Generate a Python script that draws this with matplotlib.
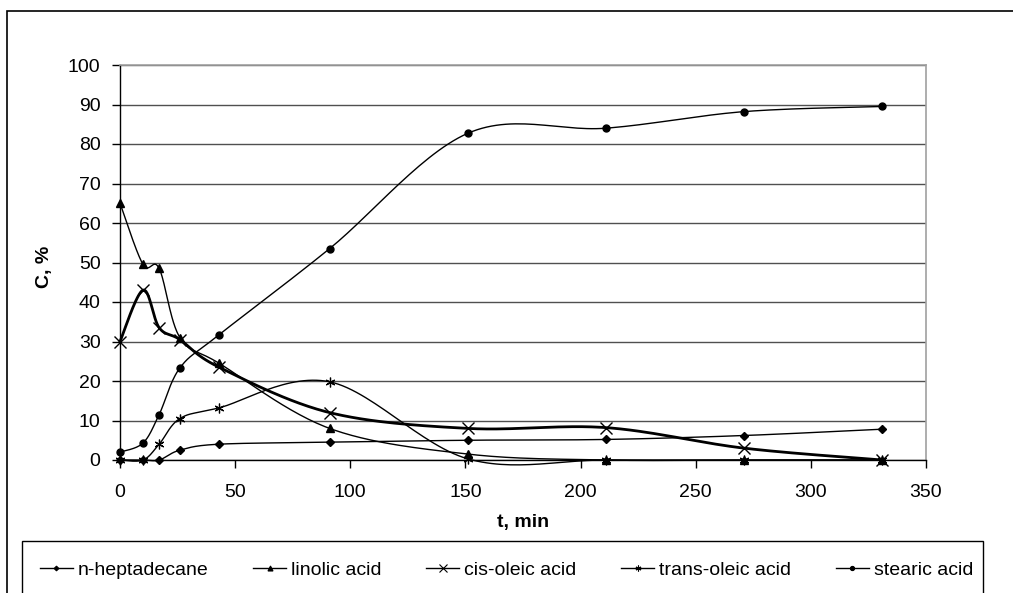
import numpy as np
import matplotlib
matplotlib.use('Agg')
import matplotlib.pyplot as plt
from matplotlib.patches import Rectangle

plt.rcParams['font.family'] = ['Liberation Sans', 'DejaVu Sans']

# sampling times, min
t = [0, 10, 17, 26, 43, 91, 151, 211, 271, 331]

heptadecane = [0, 0, 0, 2.5, 4.0, 4.5, 5.0, 5.2, 6.2, 7.8]
linolic = [65, 49.5, 48.5, 31, 24.5, 8.0, 1.5, 0, 0, 0]
cis_oleic = [30, 43, 33.5, 30.5, 23.5, 12, 8.0, 8.2, 3.0, 0]
trans_oleic = [0, 0, 4.0, 10.5, 13.2, 19.8, 0.3, 0, 0, 0]
stearic = [2.0, 4.3, 11.5, 23.3, 31.7, 53.5, 82.7, 84.0, 88.2, 89.5]

series_names = ['n-heptadecane', 'linolic acid', 'cis-oleic acid',
                'trans-oleic acid', 'stearic acid']


def smooth(x, y, n=30):
    # excel-like smoothed line (catmull-rom through the points)
    p = np.column_stack([x, y]).astype(float)
    p = np.vstack([p[0], p, p[-1]])
    out = []
    for i in range(1, len(p) - 2):
        p0, p1, p2, p3 = p[i - 1], p[i], p[i + 1], p[i + 2]
        b1 = p1 + (p2 - p0) / 6.0
        b2 = p2 - (p3 - p1) / 6.0
        s = np.linspace(0, 1, n)[:, None]
        seg = ((1 - s) ** 3) * p1 + 3 * ((1 - s) ** 2) * s * b1 \
            + 3 * (1 - s) * s ** 2 * b2 + s ** 3 * p2
        out.append(seg)
    c = np.vstack(out)
    return c[:, 0], c[:, 1]


fig = plt.figure(figsize=(10.13, 5.93), dpi=100)
ax = fig.add_axes([120 / 1013, 1 - 460 / 593, (926 - 120) / 1013, (460 - 65) / 593])

# outer chart frame and legend frame
fig.patches.append(Rectangle((7 / 1013, -0.1), 1.1, 1 - 11 / 593 + 0.1,
                             transform=fig.transFigure, fill=False,
                             edgecolor='black', lw=1.2))
fig.patches.append(Rectangle((22 / 1013, -0.1), (983 - 22) / 1013, 1 - 541 / 593 + 0.1,
                             transform=fig.transFigure, fill=False,
                             edgecolor='black', lw=1.0))

styles = [
    dict(marker='D', ms=4, lw=1.0),
    dict(marker='^', ms=6, lw=1.0),
    dict(marker='x', ms=9, mew=1.0, lw=2.0),
    dict(marker=(6, 2, 0), ms=7, mew=0.9, lw=1.0),
    dict(marker='o', ms=5, lw=1.0),
]
data = [heptadecane, linolic, cis_oleic, trans_oleic, stearic]

handles = []
for name, y, st in zip(series_names, data, styles):
    sx, sy = smooth(t, y)
    ax.plot(sx, sy, color='black', lw=st['lw'], zorder=3, clip_on=False)
    ax.plot(t, y, ls='none', marker=st['marker'], ms=st['ms'],
            mew=st.get('mew', 1.0), color='black', zorder=4, clip_on=False)
    h, = ax.plot([], [], color='black', lw=1.0, marker=st['marker'],
                 ms=st['ms'] * 0.6, mew=0.8, label=name)
    handles.append(h)

ax.set_xlim(0, 350)
ax.set_ylim(0, 100)
ax.set_xticks(range(0, 351, 50))
ax.set_yticks(range(0, 101, 10))
ax.yaxis.grid(True, color='#505050', lw=1.0)
ax.set_axisbelow(True)
for side in ['top', 'right']:
    ax.spines[side].set_color('#a0a0a0')
    ax.spines[side].set_linewidth(1.2)
ax.spines['left'].set_linewidth(1.0)
ax.spines['bottom'].set_linewidth(1.0)
ax.tick_params(axis='both', direction='out', length=6, width=1.0,
               labelsize=14)
ax.tick_params(axis='y', pad=8)
ax.tick_params(axis='x', pad=11)

ax.set_xlabel('t, min', fontsize=14, fontweight='bold', va='center')
ax.xaxis.set_label_coords(0.5, (460 - 522) / 395)
ax.set_ylabel('C, %', fontsize=14, fontweight='bold', va='center')
ax.yaxis.set_label_coords((44 - 120) / 806, 0.49)

fig.legend(handles=handles, loc='center', bbox_to_anchor=(0.5, 1 - 570 / 593),
           ncol=5, frameon=False, fontsize=14, handlelength=1.7,
           columnspacing=2.3, handletextpad=0.25)

fig.savefig('out.png', dpi=100)
